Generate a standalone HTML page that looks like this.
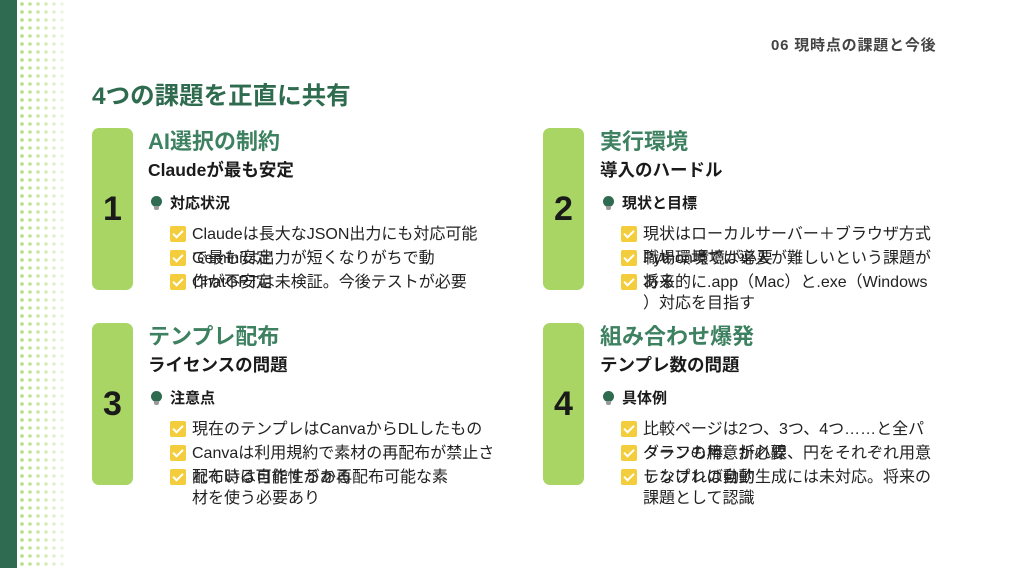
<!DOCTYPE html>
<html><head><meta charset="utf-8"><style>
*{margin:0;padding:0;box-sizing:border-box}
body{width:1024px;height:568px;background:#fff;position:relative;overflow:hidden;font-family:"Liberation Sans","Noto Sans CJK JP",sans-serif;color:#222}
.a{position:absolute;white-space:nowrap;line-height:1.2}
.tx{transform:translateY(3px)}
.num{position:absolute;width:41px;height:162px;background:#a8d563;border-radius:7px;font-weight:bold;font-size:34px;color:#1a1a1a;display:flex;align-items:center;justify-content:center}
.t{font-size:22px;font-weight:bold;color:#3d8160;transform:translateY(3px)}
.s{font-size:17.5px;font-weight:bold;color:#1a1a1a;transform:translateY(3px)}
.l{font-size:15px;font-weight:bold;color:#1a1a1a;transform:translateY(2px)}
.b{font-size:16px;color:#222;transform:translateY(3px)}
.cb{position:absolute;width:16px;height:16px;background:#f3cd3c;border-radius:2px}
.cb:after{content:"";position:absolute;left:5px;top:2px;width:4px;height:8px;border:solid #fff;border-width:0 2px 2px 0;transform:rotate(45deg)}
.bulb{position:absolute;width:11px;height:11px;border-radius:50%;background:#2e6b50}
.bulb:after{content:"";position:absolute;left:3px;top:10px;width:5px;height:4px;background:#9a9a9a;border-radius:0 0 2px 2px}
</style></head><body>
<div class="a" style="left:0;top:0;width:17px;height:568px;background:#2e6b50"></div>
<svg class="a" style="left:18px;top:0" width="50" height="568">
<defs>
<pattern id="p" width="8" height="8" patternUnits="userSpaceOnUse"><circle cx="4" cy="4" r="1.8" fill="#b5db80"/></pattern>
</defs>
<rect x="1" y="0" width="8" height="568" fill="url(#p)" opacity="1"/>
<rect x="9" y="0" width="8" height="568" fill="url(#p)" opacity=".85"/>
<rect x="17" y="0" width="8" height="568" fill="url(#p)" opacity=".7"/>
<rect x="25" y="0" width="8" height="568" fill="url(#p)" opacity=".55"/>
<rect x="33" y="0" width="8" height="568" fill="url(#p)" opacity=".4"/>
<rect x="41" y="0" width="8" height="568" fill="url(#p)" opacity=".25"/>
</svg>
<div class="a" style="left:771px;top:37px;font-size:15px;font-weight:bold;color:#444;letter-spacing:0.8px">06 現時点の課題と今後</div>
<div class="a" style="left:92px;top:82px;font-size:24.5px;font-weight:bold;color:#2f6b4f">4つの課題を正直に共有</div>

<!-- Q1 -->
<div class="num" style="left:92px;top:128px">1</div>
<div class="a t" style="left:148px;top:126px">AI選択の制約</div>
<div class="a s" style="left:148px;top:157px">Claudeが最も安定</div>
<div class="bulb" style="left:151px;top:196px"></div>
<div class="a l" style="left:170px;top:193px">対応状況</div>
<div class="cb" style="left:170px;top:226px"></div><div class="cb" style="left:170px;top:250px"></div><div class="cb" style="left:170px;top:274px"></div>
<div class="a b" style="left:192px;top:222px">Claudeは長大なJSON出力にも対応可能</div>
<div class="a b" style="left:192px;top:246px">で最も安定</div>
<div class="a b" style="left:192px;top:246px">Geminiは出力が短くなりがちで動</div>
<div class="a b" style="left:192px;top:270px">作が不安定</div>
<div class="a b" style="left:192px;top:270px">ChatGPTは未検証。今後テストが必要</div>

<!-- Q2 -->
<div class="num" style="left:543px;top:128px">2</div>
<div class="a t" style="left:600px;top:126px">実行環境</div>
<div class="a s" style="left:600px;top:157px">導入のハードル</div>
<div class="bulb" style="left:603px;top:196px"></div>
<div class="a l" style="left:622px;top:193px">現状と目標</div>
<div class="cb" style="left:621px;top:226px"></div><div class="cb" style="left:621px;top:250px"></div><div class="cb" style="left:621px;top:274px"></div>
<div class="a b" style="left:643px;top:222px">現状はローカルサーバー＋ブラウザ方式</div>
<div class="a b" style="left:643px;top:246px">職場環境では導入が難しいという課題が</div>
<div class="a b" style="left:643px;top:246px">Python環境が必要</div>
<div class="a b" style="left:643px;top:270px">将来的に.app（Mac）と.exe（Windows</div>
<div class="a b" style="left:643px;top:270px">ある</div>
<div class="a b" style="left:643px;top:291px">）対応を目指す</div>

<!-- Q3 -->
<div class="num" style="left:92px;top:323px">3</div>
<div class="a t" style="left:148px;top:321px">テンプレ配布</div>
<div class="a s" style="left:148px;top:352px">ライセンスの問題</div>
<div class="bulb" style="left:151px;top:391px"></div>
<div class="a l" style="left:170px;top:388px">注意点</div>
<div class="cb" style="left:170px;top:421px"></div><div class="cb" style="left:170px;top:445px"></div><div class="cb" style="left:170px;top:469px"></div>
<div class="a b" style="left:192px;top:417px">現在のテンプレはCanvaからDLしたもの</div>
<div class="a b" style="left:192px;top:441px">Canvaは利用規約で素材の再配布が禁止さ</div>
<div class="a b" style="left:192px;top:465px">配布時は自作するか再配布可能な素</div>
<div class="a b" style="left:192px;top:465px">れている可能性がある</div>
<div class="a b" style="left:192px;top:486px">材を使う必要あり</div>

<!-- Q4 -->
<div class="num" style="left:543px;top:323px">4</div>
<div class="a t" style="left:600px;top:321px">組み合わせ爆発</div>
<div class="a s" style="left:600px;top:352px">テンプレ数の問題</div>
<div class="bulb" style="left:603px;top:391px"></div>
<div class="a l" style="left:622px;top:388px">具体例</div>
<div class="cb" style="left:621px;top:421px"></div><div class="cb" style="left:621px;top:445px"></div><div class="cb" style="left:621px;top:469px"></div>
<div class="a b" style="left:643px;top:417px">比較ページは2つ、3つ、4つ……と全パ</div>
<div class="a b" style="left:643px;top:441px">グラフも棒、折れ線、円をそれぞれ用意</div>
<div class="a b" style="left:643px;top:441px">ターンの用意が必要</div>
<div class="a b" style="left:643px;top:465px">しなければ動的生成には未対応。将来の</div>
<div class="a b" style="left:643px;top:465px">テンプレの自動</div>
<div class="a b" style="left:643px;top:486px">課題として認識</div>
</body></html>
